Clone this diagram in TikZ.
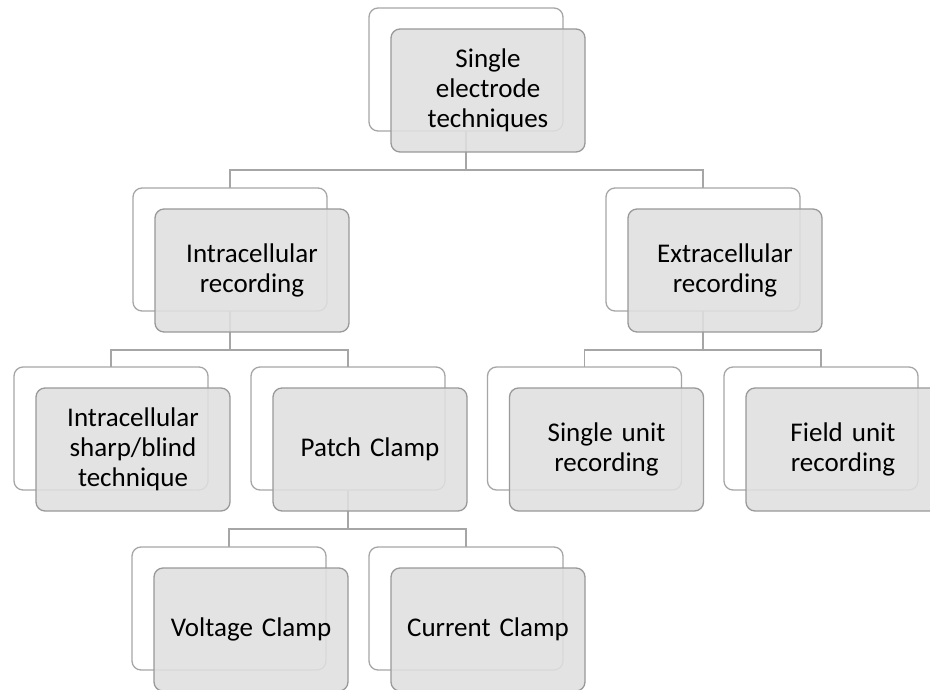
\documentclass[tikz,border=0pt]{standalone}
\usepackage{fontspec}
\setmainfont{Carlito}
\begin{document}
\begin{tikzpicture}[x=1pt,y=-1pt,
  backbox/.style={draw=black!35, fill=white, line width=1.3pt, rounded corners=9pt,
    minimum width=194pt, minimum height=123pt, inner sep=0pt, outer sep=0pt},
  frontbox/.style={draw=black!40, fill=black!12, fill opacity=0.88, text opacity=1,
    line width=1.3pt, rounded corners=9pt,
    minimum width=194pt, minimum height=123pt, inner sep=2pt, outer sep=0pt,
    align=center, text width=180pt,
    font=\fontsize{27}{30}\selectfont},
  link/.style={draw=black!35, line width=1.3pt}]
\clip (0,0) rectangle (930,690);
\fill[white] (0,0) rectangle (930,690);
% back boxes
\node[backbox] (topB) at (466,69.5) {};
\node[backbox] (intraB) at (230,249.5) {};
\node[backbox] (extraB) at (703,249.5) {};
\node[backbox] (sharpB) at (111,428.5) {};
\node[backbox] (patchB) at (348,428.5) {};
\node[backbox] (singleB) at (584.5,428.5) {};
\node[backbox] (fieldB) at (821,428.5) {};
\node[backbox] (voltB) at (229,608.5) {};
\node[backbox] (currB) at (466,608.5) {};
% connectors
\draw[link] (topB.south) -- ++(0,39) -| (intraB.north);
\draw[link] (topB.south) -- ++(0,39) -| (extraB.north);
\draw[link] (intraB.south) -- ++(0,39) -| (sharpB.north);
\draw[link] (intraB.south) -- ++(0,39) -| (patchB.north);
\draw[link] (extraB.south) -- ++(0,39) -| (singleB.north);
\draw[link] (extraB.south) -- ++(0,39) -| (fieldB.north);
\draw[link] (patchB.south) -- ++(0,39) -| (voltB.north);
\draw[link] (patchB.south) -- ++(0,39) -| (currB.north);
% front boxes
\node[frontbox] (topF) at (488,90.5) {Single\\electrode\\techniques};
\node[frontbox] (intraF) at (252,270.5) {Intracellular\\recording};
\node[frontbox] (extraF) at (725,270.5) {Extracellular\\recording};
\node[frontbox] (sharpF) at (133,449.5) {Intracellular\\sharp/blind\\technique};
\node[frontbox] (patchF) at (370,449.5) {Patch Clamp};
\node[frontbox] (singleF) at (606.5,449.5) {Single unit\\recording};
\node[frontbox] (fieldF) at (843,449.5) {Field unit\\recording};
\node[frontbox] (voltF) at (251,629.5) {Voltage Clamp};
\node[frontbox] (currF) at (488,629.5) {Current Clamp};
\end{tikzpicture}
\end{document}
